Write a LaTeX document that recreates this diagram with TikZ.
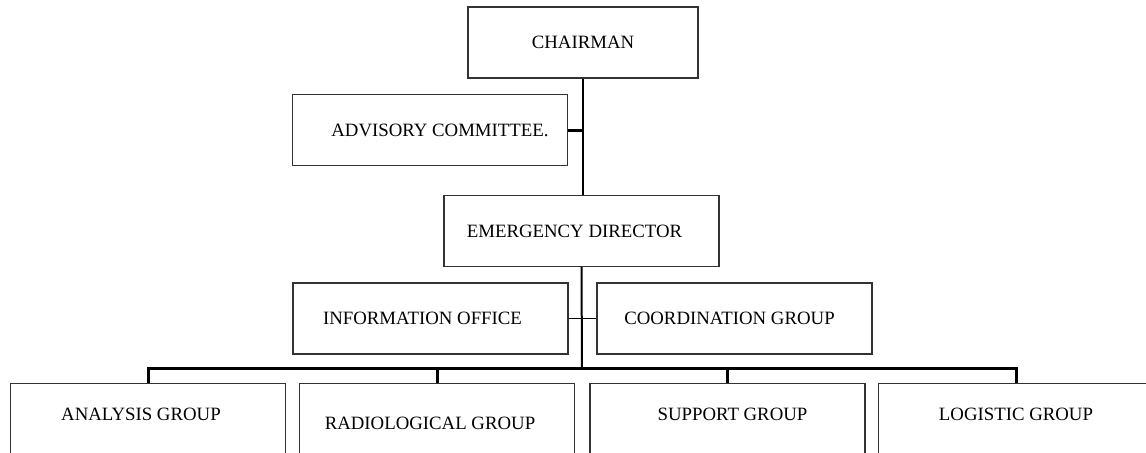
\documentclass[tikz,border=0pt]{standalone}
\usepackage{fontspec}
\setmainfont{Liberation Serif}
\usepackage{tikz}
\usetikzlibrary{positioning,calc}

\begin{document}
\begin{tikzpicture}[x=0.5pt,y=-0.5pt,
    box/.style={draw=black!80, line width=0.6pt, rectangle, inner sep=0pt,
        minimum width=137.5pt, minimum height=35.5pt,
        font=\fontsize{9.4}{11}\selectfont},
    lowbox/.style={box, anchor=north, minimum height=0pt,
        text height=18.5pt, text depth=60pt},
    link/.style={line width=1pt},
    thicklink/.style={line width=1.5pt}]

    % Page
    \useasboundingbox (0,0) rectangle (1146,452);
    \clip (0,0) rectangle (1146,452);

    % Top of the chart
    \node[box, minimum width=115pt] (chairman) at (583,42.5) {CHAIRMAN};
    \node[box] (advisory) at (430,130) {\hspace*{10pt}ADVISORY COMMITTEE.};
    \node[box] (director) at (581.5,231) {EMERGENCY DIRECTOR\hspace*{7pt}};
    \draw[link] (chairman.south) -- (chairman.south |- director.north);
    \draw[thicklink] (advisory.east) -- (advisory.east -| chairman.south);

    % Staff
    \node[box] (info) at (430.5,318.5) {INFORMATION OFFICE\hspace*{8pt}};
    \node[box] (coord) at (734.5,318.5) {COORDINATION GROUP\hspace*{5pt}};
    \draw[line width=0.75pt] (info.east) -- (coord.west);

    % Groups
    \node[lowbox] (analysis) at (148,383) {ANALYSIS GROUP\hspace*{7pt}};
    \node[lowbox, text height=23pt] (radio) at (437,383) {RADIOLOGICAL GROUP\hspace*{7pt}};
    \node[lowbox] (support) at (727.5,383) {\hspace*{5pt}SUPPORT GROUP};
    \node[lowbox] (logistic) at (1016,383) {LOGISTIC GROUP};

    % Bar
    \coordinate (bar) at (582,368);
    \draw[link] (director.south) -- (bar);
    \draw[thicklink] (analysis.north) |- (bar) -| (logistic.north);
    \draw[thicklink] (radio.north) -- (radio.north |- bar);
    \draw[thicklink] (support.north) -- (support.north |- bar);

\end{tikzpicture}
\end{document}
